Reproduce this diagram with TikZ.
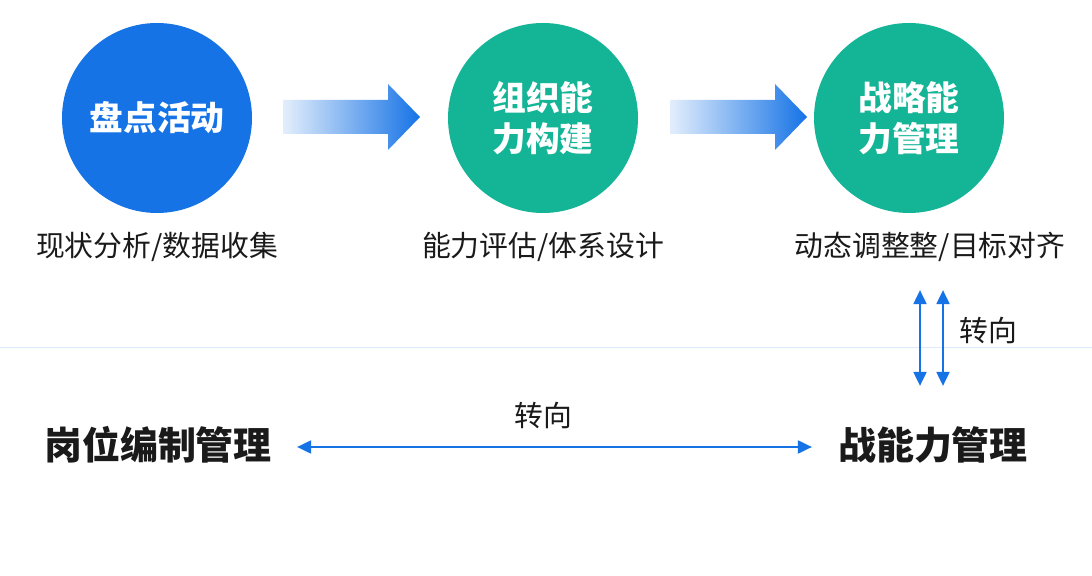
\documentclass[tikz,border=0pt]{standalone}
\usepackage{fontspec}
\setmainfont{Noto Sans CJK SC}
\usetikzlibrary{arrows.meta}
\definecolor{bluec}{HTML}{1673E6}
\definecolor{tealc}{HTML}{14B497}
\definecolor{textc}{HTML}{1A1A1A}
\begin{document}
\begin{tikzpicture}[x=0.025cm,y=-0.025cm,
  stage/.style={circle,minimum size=190*0.025cm,inner sep=0pt,text=white,
    font=\bfseries\fontsize{24}{29}\selectfont,align=center},
  flow/.style={left color=bluec!12,right color=bluec},
  note/.style={text=textc,font=\fontsize{20.5}{24}\selectfont},
  title/.style={text=textc,font=\bfseries\fontsize{27}{32}\selectfont},
  link/.style={bluec,line width=2pt,{Triangle[width=9pt,length=10pt]}-{Triangle[width=9pt,length=10pt]}}]
\useasboundingbox (0,0) rectangle (1092,576);
\fill[white] (0,0) rectangle (1092,576);
\draw[bluec!15,line width=0.6pt] (0,347) -- (1092,347);
% stages
\node[stage,fill=bluec] (inventory) at (157,118) {盘点活动};
\node[stage,fill=tealc] (build) at (543,118) {组织能\\力构建};
\node[stage,fill=tealc] (strategy) at (909,118) {战略能\\力管理};
\foreach \dx in {0,387}
  \shade[flow] (283+\dx,100) -- (388+\dx,100) -- (388+\dx,84) -- (420+\dx,117)
    -- (388+\dx,150) -- (388+\dx,134) -- (283+\dx,134) -- cycle;
\node[note] (notea) at (157,247) {现状分析/数据收集};
\node[note] (noteb) at (543,247) {能力评估/体系设计};
\node[note] (notec) at (930,247) {动态调整整/目标对齐};
% lower part
\coordinate (vtopa) at (920,290);
\coordinate (vbota) at (920,386);
\coordinate (vtopb) at (943,290);
\coordinate (vbotb) at (943,386);
\draw[link] (vtopa) -- (vbota);
\draw[link] (vtopb) -- (vbotb);
\node[note] (turna) at (988,331) {转向};
\node[title] (post) at (158,445) {岗位编制管理};
\node[title] (ability) at (933,445) {战能力管理};
\coordinate (hleft) at (297,447);
\coordinate (hright) at (812,447);
\draw[link] (hleft) -- (hright);
\node[note] (turnb) at (543,416) {转向};
\end{tikzpicture}
\end{document}
